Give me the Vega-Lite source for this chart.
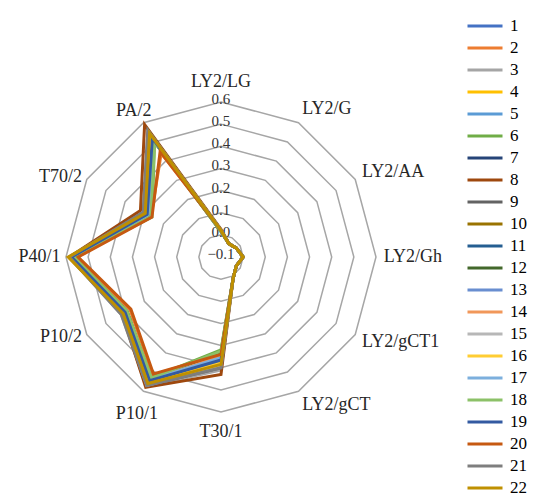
{
  "$schema": "https://vega.github.io/schema/vega-lite/v6.json",
  "width": 533,
  "height": 501,
  "autosize": {"type": "none"},
  "padding": 0,
  "background": "white",
  "config": {"view": {"stroke": null}},
  "datasets": {
    "series": [
      {"s": 1, "LY2/LG": 0.02, "LY2/G": -0.03, "LY2/AA": -0.02, "LY2/Gh": 0.0, "LY2/gCT1": -0.02, "LY2/gCT": 0.01, "T30/1": 0.36, "P10/1": 0.54, "P10/2": 0.395, "P40/1": 0.57, "T70/2": 0.285, "PA/2": 0.51},
      {"s": 2, "LY2/LG": 0.02, "LY2/G": -0.03, "LY2/AA": -0.02, "LY2/Gh": 0.0, "LY2/gCT1": -0.02, "LY2/gCT": 0.01, "T30/1": 0.34, "P10/1": 0.515, "P10/2": 0.375, "P40/1": 0.55, "T70/2": 0.265, "PA/2": 0.44},
      {"s": 3, "LY2/LG": 0.02, "LY2/G": -0.03, "LY2/AA": -0.02, "LY2/Gh": 0.0, "LY2/gCT1": -0.02, "LY2/gCT": 0.01, "T30/1": 0.41, "P10/1": 0.575, "P10/2": 0.42, "P40/1": 0.585, "T70/2": 0.3, "PA/2": 0.55},
      {"s": 4, "LY2/LG": 0.02, "LY2/G": -0.03, "LY2/AA": -0.02, "LY2/Gh": 0.0, "LY2/gCT1": -0.02, "LY2/gCT": 0.01, "T30/1": 0.38, "P10/1": 0.555, "P10/2": 0.405, "P40/1": 0.58, "T70/2": 0.29, "PA/2": 0.53},
      {"s": 5, "LY2/LG": 0.02, "LY2/G": -0.03, "LY2/AA": -0.02, "LY2/Gh": 0.0, "LY2/gCT1": -0.02, "LY2/gCT": 0.01, "T30/1": 0.355, "P10/1": 0.545, "P10/2": 0.395, "P40/1": 0.575, "T70/2": 0.28, "PA/2": 0.5},
      {"s": 6, "LY2/LG": 0.015, "LY2/G": -0.03, "LY2/AA": -0.02, "LY2/Gh": 0.0, "LY2/gCT1": -0.02, "LY2/gCT": 0.01, "T30/1": 0.32, "P10/1": 0.53, "P10/2": 0.39, "P40/1": 0.565, "T70/2": 0.26, "PA/2": 0.5},
      {"s": 7, "LY2/LG": 0.02, "LY2/G": -0.03, "LY2/AA": -0.02, "LY2/Gh": 0.0, "LY2/gCT1": -0.02, "LY2/gCT": 0.01, "T30/1": 0.37, "P10/1": 0.55, "P10/2": 0.4, "P40/1": 0.575, "T70/2": 0.29, "PA/2": 0.52},
      {"s": 8, "LY2/LG": 0.025, "LY2/G": -0.03, "LY2/AA": -0.02, "LY2/Gh": 0.0, "LY2/gCT1": -0.02, "LY2/gCT": 0.01, "T30/1": 0.43, "P10/1": 0.58, "P10/2": 0.415, "P40/1": 0.585, "T70/2": 0.32, "PA/2": 0.59},
      {"s": 9, "LY2/LG": 0.02, "LY2/G": -0.03, "LY2/AA": -0.02, "LY2/Gh": 0.0, "LY2/gCT1": -0.02, "LY2/gCT": 0.01, "T30/1": 0.4, "P10/1": 0.57, "P10/2": 0.415, "P40/1": 0.58, "T70/2": 0.305, "PA/2": 0.56},
      {"s": 10, "LY2/LG": 0.02, "LY2/G": -0.03, "LY2/AA": -0.02, "LY2/Gh": 0.0, "LY2/gCT1": -0.02, "LY2/gCT": 0.01, "T30/1": 0.39, "P10/1": 0.565, "P10/2": 0.41, "P40/1": 0.58, "T70/2": 0.3, "PA/2": 0.555},
      {"s": 11, "LY2/LG": 0.02, "LY2/G": -0.03, "LY2/AA": -0.02, "LY2/Gh": 0.0, "LY2/gCT1": -0.02, "LY2/gCT": 0.01, "T30/1": 0.365, "P10/1": 0.545, "P10/2": 0.4, "P40/1": 0.575, "T70/2": 0.285, "PA/2": 0.515},
      {"s": 12, "LY2/LG": 0.015, "LY2/G": -0.03, "LY2/AA": -0.02, "LY2/Gh": 0.0, "LY2/gCT1": -0.02, "LY2/gCT": 0.01, "T30/1": 0.33, "P10/1": 0.535, "P10/2": 0.39, "P40/1": 0.57, "T70/2": 0.27, "PA/2": 0.505},
      {"s": 13, "LY2/LG": 0.02, "LY2/G": -0.03, "LY2/AA": -0.02, "LY2/Gh": 0.0, "LY2/gCT1": -0.02, "LY2/gCT": 0.01, "T30/1": 0.36, "P10/1": 0.545, "P10/2": 0.4, "P40/1": 0.575, "T70/2": 0.285, "PA/2": 0.51},
      {"s": 14, "LY2/LG": 0.02, "LY2/G": -0.03, "LY2/AA": -0.02, "LY2/Gh": 0.0, "LY2/gCT1": -0.02, "LY2/gCT": 0.01, "T30/1": 0.35, "P10/1": 0.54, "P10/2": 0.395, "P40/1": 0.57, "T70/2": 0.28, "PA/2": 0.5},
      {"s": 15, "LY2/LG": 0.02, "LY2/G": -0.03, "LY2/AA": -0.02, "LY2/Gh": 0.0, "LY2/gCT1": -0.02, "LY2/gCT": 0.01, "T30/1": 0.39, "P10/1": 0.57, "P10/2": 0.415, "P40/1": 0.585, "T70/2": 0.3, "PA/2": 0.545},
      {"s": 16, "LY2/LG": 0.02, "LY2/G": -0.03, "LY2/AA": -0.02, "LY2/Gh": 0.0, "LY2/gCT1": -0.02, "LY2/gCT": 0.01, "T30/1": 0.375, "P10/1": 0.555, "P10/2": 0.405, "P40/1": 0.58, "T70/2": 0.29, "PA/2": 0.53},
      {"s": 17, "LY2/LG": 0.02, "LY2/G": -0.03, "LY2/AA": -0.02, "LY2/Gh": 0.0, "LY2/gCT1": -0.02, "LY2/gCT": 0.01, "T30/1": 0.355, "P10/1": 0.54, "P10/2": 0.395, "P40/1": 0.57, "T70/2": 0.28, "PA/2": 0.505},
      {"s": 18, "LY2/LG": 0.015, "LY2/G": -0.03, "LY2/AA": -0.02, "LY2/Gh": 0.0, "LY2/gCT1": -0.02, "LY2/gCT": 0.01, "T30/1": 0.325, "P10/1": 0.53, "P10/2": 0.39, "P40/1": 0.565, "T70/2": 0.265, "PA/2": 0.5},
      {"s": 19, "LY2/LG": 0.02, "LY2/G": -0.03, "LY2/AA": -0.02, "LY2/Gh": 0.0, "LY2/gCT1": -0.02, "LY2/gCT": 0.01, "T30/1": 0.365, "P10/1": 0.545, "P10/2": 0.4, "P40/1": 0.575, "T70/2": 0.285, "PA/2": 0.52},
      {"s": 20, "LY2/LG": 0.02, "LY2/G": -0.03, "LY2/AA": -0.02, "LY2/Gh": 0.0, "LY2/gCT1": -0.02, "LY2/gCT": 0.01, "T30/1": 0.34, "P10/1": 0.51, "P10/2": 0.37, "P40/1": 0.545, "T70/2": 0.26, "PA/2": 0.45},
      {"s": 21, "LY2/LG": 0.02, "LY2/G": -0.03, "LY2/AA": -0.02, "LY2/Gh": 0.0, "LY2/gCT1": -0.02, "LY2/gCT": 0.01, "T30/1": 0.4, "P10/1": 0.57, "P10/2": 0.42, "P40/1": 0.585, "T70/2": 0.305, "PA/2": 0.56},
      {"s": 22, "LY2/LG": 0.02, "LY2/G": -0.03, "LY2/AA": -0.02, "LY2/Gh": 0.0, "LY2/gCT1": -0.02, "LY2/gCT": 0.01, "T30/1": 0.385, "P10/1": 0.56, "P10/2": 0.41, "P40/1": 0.59, "T70/2": 0.295, "PA/2": 0.545}
    ],
    "axes": [
      {"axis": "LY2/LG", "i": 0, "rings": [0, 0.1, 0.2, 0.3, 0.4, 0.5, 0.6]},
      {"axis": "LY2/G", "i": 1, "rings": [0, 0.1, 0.2, 0.3, 0.4, 0.5, 0.6]},
      {"axis": "LY2/AA", "i": 2, "rings": [0, 0.1, 0.2, 0.3, 0.4, 0.5, 0.6]},
      {"axis": "LY2/Gh", "i": 3, "rings": [0, 0.1, 0.2, 0.3, 0.4, 0.5, 0.6]},
      {"axis": "LY2/gCT1", "i": 4, "rings": [0, 0.1, 0.2, 0.3, 0.4, 0.5, 0.6]},
      {"axis": "LY2/gCT", "i": 5, "rings": [0, 0.1, 0.2, 0.3, 0.4, 0.5, 0.6]},
      {"axis": "T30/1", "i": 6, "rings": [0, 0.1, 0.2, 0.3, 0.4, 0.5, 0.6]},
      {"axis": "P10/1", "i": 7, "rings": [0, 0.1, 0.2, 0.3, 0.4, 0.5, 0.6]},
      {"axis": "P10/2", "i": 8, "rings": [0, 0.1, 0.2, 0.3, 0.4, 0.5, 0.6]},
      {"axis": "P40/1", "i": 9, "rings": [0, 0.1, 0.2, 0.3, 0.4, 0.5, 0.6]},
      {"axis": "T70/2", "i": 10, "rings": [0, 0.1, 0.2, 0.3, 0.4, 0.5, 0.6]},
      {"axis": "PA/2", "i": 11, "rings": [0, 0.1, 0.2, 0.3, 0.4, 0.5, 0.6]}
    ],
    "ticks": [{"t": -0.1}, {"t": 0.0}, {"t": 0.1}, {"t": 0.2}, {"t": 0.3}, {"t": 0.4}, {"t": 0.5}, {"t": 0.6}]
  },
  "layer": [
    {
      "data": {"name": "axes"},
      "transform": [
        {"flatten": ["rings"]},
        {"calculate": "((datum.rings + 0.1) / 0.7) * sin(datum.i * PI / 6)", "as": "px"},
        {"calculate": "((datum.rings + 0.1) / 0.7) * cos(datum.i * PI / 6)", "as": "py"}
      ],
      "mark": {"type": "line", "interpolate": "linear-closed", "stroke": "#A6A6A6", "strokeWidth": 1.5},
      "encoding": {
        "x": {"field": "px", "type": "quantitative", "scale": {"domain": [-1.4258, 2.0129], "nice": false, "zero": false}, "axis": null},
        "y": {"field": "py", "type": "quantitative", "scale": {"domain": [-1.5742, 1.6581], "nice": false, "zero": false}, "axis": null},
        "detail": {"field": "rings", "type": "nominal"},
        "order": {"field": "i", "type": "quantitative"}
      }
    },
    {
      "data": {"name": "ticks"},
      "transform": [
        {"calculate": "0", "as": "px"},
        {"calculate": "(datum.t + 0.1) / 0.7", "as": "py"}
      ],
      "mark": {"type": "text", "font": "Liberation Serif", "fontSize": 15, "color": "#333333", "dy": -3, "align": "center", "baseline": "middle"},
      "encoding": {
        "x": {"field": "px", "type": "quantitative", "scale": {"domain": [-1.4258, 2.0129], "nice": false, "zero": false}, "axis": null},
        "y": {"field": "py", "type": "quantitative", "scale": {"domain": [-1.5742, 1.6581], "nice": false, "zero": false}, "axis": null},
        "text": {"field": "t", "type": "quantitative", "format": ".1f"}
      }
    },
    {
      "data": {"name": "series"},
      "transform": [
        {"fold": ["LY2/LG", "LY2/G", "LY2/AA", "LY2/Gh", "LY2/gCT1", "LY2/gCT", "T30/1", "P10/1", "P10/2", "P40/1", "T70/2", "PA/2"], "as": ["axis", "val"]},
        {"calculate": "indexof(['LY2/LG','LY2/G','LY2/AA','LY2/Gh','LY2/gCT1','LY2/gCT','T30/1','P10/1','P10/2','P40/1','T70/2','PA/2'], datum.axis)", "as": "i"},
        {"calculate": "((datum.val + 0.1) / 0.7) * sin(datum.i * PI / 6)", "as": "px"},
        {"calculate": "((datum.val + 0.1) / 0.7) * cos(datum.i * PI / 6)", "as": "py"}
      ],
      "mark": {"type": "line", "interpolate": "linear-closed", "strokeWidth": 3},
      "encoding": {
        "x": {"field": "px", "type": "quantitative", "scale": {"domain": [-1.4258, 2.0129], "nice": false, "zero": false}, "axis": null},
        "y": {"field": "py", "type": "quantitative", "scale": {"domain": [-1.5742, 1.6581], "nice": false, "zero": false}, "axis": null},
        "order": {"field": "i", "type": "quantitative"},
        "color": {
          "field": "s", "type": "nominal",
          "scale": {
            "domain": [1, 2, 3, 4, 5, 6, 7, 8, 9, 10, 11, 12, 13, 14, 15, 16, 17, 18, 19, 20, 21, 22],
            "range": ["#4472C4", "#ED7D31", "#A5A5A5", "#FFC000", "#5B9BD5", "#70AD47", "#264478", "#9E480E", "#636363", "#997300", "#255E91", "#43682B", "#698ED0", "#F1975A", "#B7B7B7", "#FFCD33", "#7CAFDD", "#8CC168", "#335AA1", "#C65911", "#7E7E7E", "#BF9000"]
          },
          "legend": {
            "orient": "none", "legendX": 466, "legendY": 15, "title": null,
            "symbolType": "stroke", "symbolSize": 1225, "symbolStrokeWidth": 3,
            "labelFont": "Liberation Serif", "labelFontSize": 17, "labelColor": "#000000",
            "labelOffset": 6, "rowPadding": 0, "clipHeight": 22
          }
        }
      }
    },
    {
      "data": {"name": "axes"},
      "transform": [
        {"filter": "datum.i >= 1 && datum.i <= 5"},
        {"calculate": "1.05 * sin(datum.i * PI / 6)", "as": "px"},
        {"calculate": "1.05 * cos(datum.i * PI / 6) + 0.05 * cos(datum.i * PI / 6)", "as": "py"}
      ],
      "mark": {"type": "text", "font": "Liberation Serif", "fontSize": 18, "color": "#262626", "align": "left", "baseline": "middle"},
      "encoding": {
        "x": {"field": "px", "type": "quantitative", "scale": {"domain": [-1.4258, 2.0129], "nice": false, "zero": false}, "axis": null},
        "y": {"field": "py", "type": "quantitative", "scale": {"domain": [-1.5742, 1.6581], "nice": false, "zero": false}, "axis": null},
        "text": {"field": "axis", "type": "nominal"}
      }
    },
    {
      "data": {"name": "axes"},
      "transform": [
        {"filter": "datum.i >= 8 && datum.i <= 10"},
        {"calculate": "1.035 * sin(datum.i * PI / 6)", "as": "px"},
        {"calculate": "1.035 * cos(datum.i * PI / 6)", "as": "py"}
      ],
      "mark": {"type": "text", "font": "Liberation Serif", "fontSize": 18, "color": "#262626", "align": "right", "baseline": "middle"},
      "encoding": {
        "x": {"field": "px", "type": "quantitative", "scale": {"domain": [-1.4258, 2.0129], "nice": false, "zero": false}, "axis": null},
        "y": {"field": "py", "type": "quantitative", "scale": {"domain": [-1.5742, 1.6581], "nice": false, "zero": false}, "axis": null},
        "text": {"field": "axis", "type": "nominal"}
      }
    },
    {
      "data": {"name": "axes"},
      "transform": [
        {"filter": "datum.i == 0 || datum.i == 6"},
        {"calculate": "1.13 * sin(datum.i * PI / 6)", "as": "px"},
        {"calculate": "1.13 * cos(datum.i * PI / 6)", "as": "py"}
      ],
      "mark": {"type": "text", "font": "Liberation Serif", "fontSize": 18, "color": "#262626", "align": "center", "baseline": "middle"},
      "encoding": {
        "x": {"field": "px", "type": "quantitative", "scale": {"domain": [-1.4258, 2.0129], "nice": false, "zero": false}, "axis": null},
        "y": {"field": "py", "type": "quantitative", "scale": {"domain": [-1.5742, 1.6581], "nice": false, "zero": false}, "axis": null},
        "text": {"field": "axis", "type": "nominal"}
      }
    },
    {
      "data": {"name": "axes"},
      "transform": [
        {"filter": "datum.i == 11"},
        {"calculate": "1.10 * sin(datum.i * PI / 6)", "as": "px"},
        {"calculate": "1.10 * cos(datum.i * PI / 6)", "as": "py"}
      ],
      "mark": {"type": "text", "font": "Liberation Serif", "fontSize": 18, "color": "#262626", "align": "center", "baseline": "middle", "dx": -2, "dy": 2},
      "encoding": {
        "x": {"field": "px", "type": "quantitative", "scale": {"domain": [-1.4258, 2.0129], "nice": false, "zero": false}, "axis": null},
        "y": {"field": "py", "type": "quantitative", "scale": {"domain": [-1.5742, 1.6581], "nice": false, "zero": false}, "axis": null},
        "text": {"field": "axis", "type": "nominal"}
      }
    },
    {
      "data": {"name": "axes"},
      "transform": [
        {"filter": "datum.i == 7"},
        {"calculate": "1.15 * sin(datum.i * PI / 6)", "as": "px"},
        {"calculate": "1.15 * cos(datum.i * PI / 6)", "as": "py"}
      ],
      "mark": {"type": "text", "font": "Liberation Serif", "fontSize": 18, "color": "#262626", "align": "center", "baseline": "middle", "dx": 5, "dy": 3},
      "encoding": {
        "x": {"field": "px", "type": "quantitative", "scale": {"domain": [-1.4258, 2.0129], "nice": false, "zero": false}, "axis": null},
        "y": {"field": "py", "type": "quantitative", "scale": {"domain": [-1.5742, 1.6581], "nice": false, "zero": false}, "axis": null},
        "text": {"field": "axis", "type": "nominal"}
      }
    }
  ]
}
